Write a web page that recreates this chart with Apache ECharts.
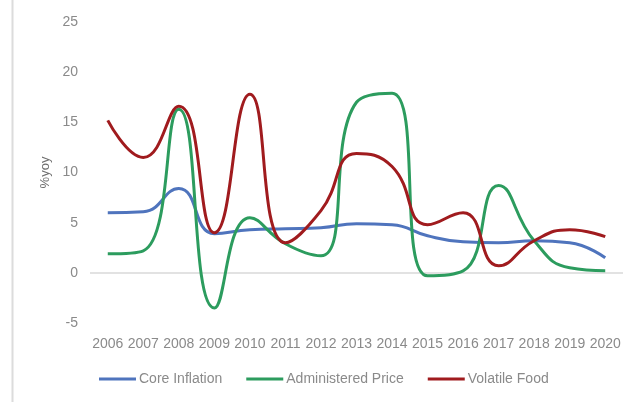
<!DOCTYPE html>
<html>
<head>
<meta charset="utf-8">
<script src="https://cdn.jsdelivr.net/npm/echarts@6/dist/echarts.min.js"></script>
<style>
  html, body { margin: 0; padding: 0; background: #ffffff; }
  #chart { width: 627px; height: 402px; }
</style>
</head>
<body>
<div id="chart"></div>
<script>
// Inflation components, % year on year
const years = ['2006','2007','2008','2009','2010','2011','2012','2013','2014','2015','2016','2017','2018','2019','2020'];
const coreInflation     = [6.0, 6.1, 8.4, 3.9, 4.3, 4.4, 4.5, 4.9, 4.8, 3.7, 3.1, 3.0, 3.2, 3.0, 1.5];
const administeredPrice = [1.9, 2.2, 16.3, -3.5, 5.5, 2.9, 1.7, 17.0, 17.9, -0.3, 0.2, 8.7, 3.2, 0.5, 0.2];
const volatileFood      = [15.2, 11.5, 16.6, 4.0, 17.8, 3.0, 6.2, 11.9, 10.6, 4.8, 6.0, 0.7, 3.2, 4.3, 3.6];

const textColor = '#8a8a8a';
const fontFamily = 'Liberation Sans, Arial, sans-serif';

function lineSeries(name, data, color, extra) {
  return Object.assign({
    name: name,
    type: 'line',
    data: data,
    smooth: 0.5,
    symbol: 'none',
    lineStyle: { color: color, width: 3 },
    itemStyle: { color: color },
    z: 3
  }, extra || {});
}

const chart = echarts.init(document.getElementById('chart'), null, { renderer: 'canvas' });
chart.setOption({
  animation: false,
  backgroundColor: '#ffffff',
  textStyle: { fontFamily: fontFamily },
  graphic: [{
    type: 'line',
    shape: { x1: 12.5, y1: 0, x2: 12.5, y2: 402 },
    style: { stroke: '#dcdcdc', lineWidth: 2 }
  }],
  grid: { left: 90, right: 4, top: 22, bottom: 79 },
  legend: {
    bottom: 11,
    left: 94,
    icon: 'rect',
    itemWidth: 37,
    itemHeight: 3,
    itemGap: 24,
    textStyle: { color: textColor, fontSize: 14, fontFamily: fontFamily, padding: [0, 0, 0, -2] },
    data: ['Core Inflation', 'Administered Price', 'Volatile Food']
  },
  xAxis: {
    type: 'category',
    data: years,
    boundaryGap: true,
    axisLine: { show: false },
    axisTick: { show: false },
    axisLabel: { color: textColor, fontSize: 14, margin: 14, interval: 0, fontFamily: fontFamily }
  },
  yAxis: {
    type: 'value',
    min: -5,
    max: 25,
    interval: 5,
    name: '%yoy',
    nameLocation: 'middle',
    nameGap: 36,
    nameRotate: 90,
    nameTextStyle: { color: '#6f6f6f', fontSize: 13, fontFamily: fontFamily },
    axisLine: { show: false },
    axisTick: { show: false },
    splitLine: { show: false },
    axisLabel: { color: textColor, fontSize: 14, margin: 12, fontFamily: fontFamily }
  },
  series: [
    lineSeries('Core Inflation', coreInflation, '#4f74bd', {
      markLine: {
        silent: true,
        symbol: 'none',
        label: { show: false },
        lineStyle: { color: '#d9d9d9', width: 1.5, type: 'solid' },
        data: [{ yAxis: 0 }],
        z: 1
      }
    }),
    lineSeries('Administered Price', administeredPrice, '#2c9c5e'),
    lineSeries('Volatile Food', volatileFood, '#a01b1e')
  ]
});
</script>
</body>
</html>
